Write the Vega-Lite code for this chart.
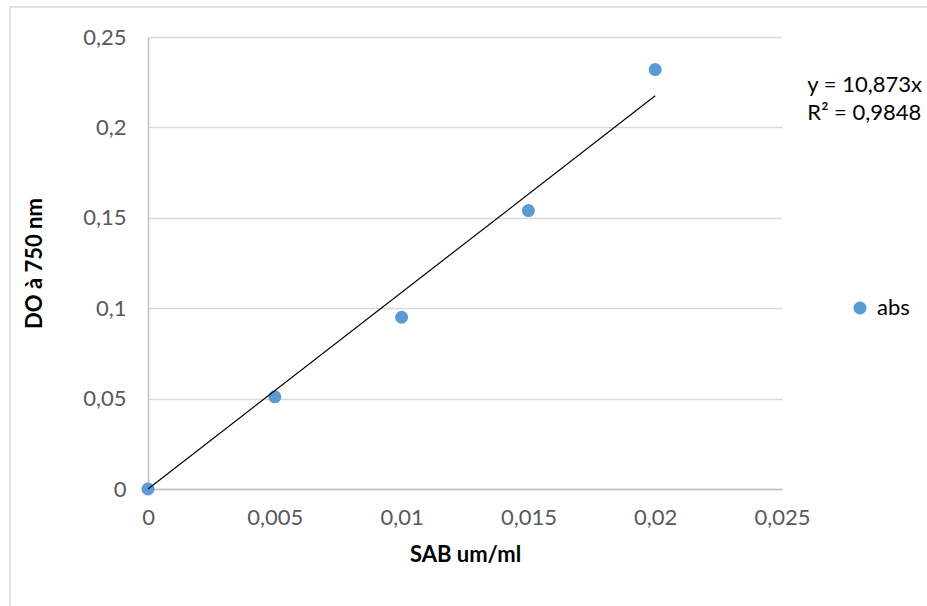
{
  "$schema": "https://vega.github.io/schema/vega-lite/v6.json",
  "autosize": "none",
  "width": 634,
  "height": 452,
  "padding": {"left": 148, "top": 37, "right": 145, "bottom": 117},
  "background": "white",
  "config": {
    "view": {"stroke": null},
    "font": "Lato",
    "locale": {"number": {"decimal": ",", "thousands": " ", "grouping": [3], "currency": ["", " €"]}}
  },
  "datasets": {
    "pts": [
      {"x": 0, "y": 0, "s": "abs"},
      {"x": 0.005, "y": 0.051, "s": "abs"},
      {"x": 0.01, "y": 0.095, "s": "abs"},
      {"x": 0.015, "y": 0.154, "s": "abs"},
      {"x": 0.02, "y": 0.232, "s": "abs"}
    ],
    "trend": [
      {"x": 0, "y": 0},
      {"x": 0.02, "y": 0.21746}
    ],
    "eq": [
      {"x": 0.026, "y": 0.2235, "t": "y = 10,873x"},
      {"x": 0.026, "y": 0.208, "t": "R² = 0,9848"}
    ],
    "frame": [
      {"x": -0.00544, "x2": 0.04, "y": 0.2666, "y2": -0.2}
    ]
  },
  "layer": [
    {
      "data": {"name": "frame"},
      "mark": {"type": "rect", "fill": null, "stroke": "#d9d9d9", "strokeWidth": 1.5, "clip": false},
      "encoding": {
        "x": {"field": "x", "type": "quantitative", "scale": {"domain": [0, 0.025]}},
        "x2": {"field": "x2"},
        "y": {"field": "y", "type": "quantitative", "scale": {"domain": [0, 0.25]}},
        "y2": {"field": "y2"}
      }
    },
    {
      "data": {"name": "pts"},
      "mark": {"type": "point", "filled": true, "opacity": 1, "size": 170},
      "encoding": {
        "x": {
          "field": "x", "type": "quantitative",
          "scale": {"domain": [0, 0.025], "nice": false},
          "axis": {
            "title": "SAB um/ml", "values": [0, 0.005, 0.01, 0.015, 0.02, 0.025], "format": "~f",
            "grid": false, "ticks": false, "domainColor": "#bfbfbf", "domainWidth": 1.5,
            "labelFontSize": 22, "labelColor": "#595959", "labelPadding": 18,
            "titleFontSize": 22, "titleFontWeight": "bold", "titleColor": "#000000", "titlePadding": 16,
            "labelFlush": false
          }
        },
        "y": {
          "field": "y", "type": "quantitative",
          "scale": {"domain": [0, 0.25], "nice": false},
          "axis": {
            "title": "DO à 750 nm", "values": [0, 0.05, 0.1, 0.15, 0.2, 0.25], "format": "~f",
            "grid": true, "gridColor": "#d9d9d9", "gridWidth": 1.5, "ticks": false,
            "domainColor": "#bfbfbf", "domainWidth": 1.5,
            "labelFontSize": 22, "labelColor": "#595959", "labelPadding": 22,
            "titleFontSize": 22, "titleFontWeight": "bold", "titleColor": "#000000", "titlePadding": 36,
            "labelFlush": false
          }
        },
        "color": {
          "field": "s", "type": "nominal",
          "scale": {"range": ["#5b9bd5"]},
          "legend": {
            "title": null, "orient": "none", "legendX": 701, "legendY": 260,
            "labelFontSize": 22, "labelColor": "#000000", "symbolSize": 170, "padding": 0,
            "symbolType": "circle", "labelOffset": 6
          }
        }
      }
    },
    {
      "data": {"name": "trend"},
      "mark": {"type": "line", "color": "#000000", "strokeWidth": 1.2},
      "encoding": {
        "x": {"field": "x", "type": "quantitative"},
        "y": {"field": "y", "type": "quantitative"}
      }
    },
    {
      "data": {"name": "eq"},
      "mark": {"type": "text", "align": "left", "baseline": "middle", "fontSize": 22, "color": "#000000", "clip": false},
      "encoding": {
        "x": {"field": "x", "type": "quantitative"},
        "y": {"field": "y", "type": "quantitative"},
        "text": {"field": "t"}
      }
    }
  ]
}
